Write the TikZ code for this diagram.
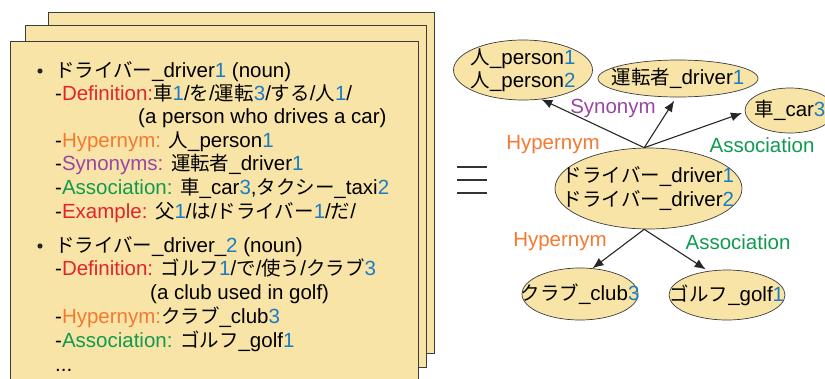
\documentclass[tikz,border=0pt]{standalone}
\usepackage{fontspec}
\setmainfont{Liberation Sans}
\newfontfamily\jpfont[Scale=0.95]{Noto Sans CJK JP}
\usetikzlibrary{shapes.geometric,arrows.meta}
\newcommand\jp[1]{{\jpfont #1}}
\definecolor{pagefill}{HTML}{F9E4A7}
\definecolor{pageline}{HTML}{3C3C3C}
\definecolor{defred}{HTML}{E0262C}
\definecolor{hyporange}{HTML}{F37A32}
\definecolor{synpurple}{HTML}{9A45A6}
\definecolor{assocgreen}{HTML}{0F9A50}
\definecolor{numblue}{HTML}{1B7CC4}
\newcommand\dg[1]{\textcolor{numblue}{#1}}
\newcommand\lbl[2]{\textcolor{#1}{#2}}
\tikzset{
  page/.style={draw=pageline, fill=pagefill, line width=0.9pt},
  entry/.style={anchor=base west, inner sep=0pt, font=\fontsize{20.5}{24}\selectfont},
  concept/.style={ellipse, draw=pageline, fill=pagefill, line width=0.7pt, inner sep=0pt},
  ctext/.style={align=center, inner sep=0pt, font=\fontsize{20.5}{23.5}\selectfont},
  rel/.style={font=\fontsize{20.5}{24}\selectfont, inner sep=0pt},
  link/.style={-{Latex[length=11pt,width=9pt]}, line width=1.1pt, draw=black!85},
}
\begin{document}
\begin{tikzpicture}[x=1pt,y=-1pt]
\useasboundingbox (0,0) rectangle (825,378);
% stacked dictionary pages
\draw[page] (48,12) rectangle (434,353);
\draw[page] (25,25) rectangle (426,367);
\draw[page] (10,41) rectangle (418,390);
% first sense
\fill[black!85] (40,71) circle (2.6pt);
\node[entry] (l1) at (55,77) {\jp{ドライバー}\_driver\dg{1} (noun)};
\node[entry] (l2) at (55,100) {-\lbl{defred}{Definition:}\jp{車}\dg{1}/\jp{を}/\jp{運転}\dg{3}/\jp{する}/\jp{人}\dg{1}/};
\node[entry] (l3) at (138,123) {(a person who drives a car)};
\node[entry] (l4) at (55,147) {-\lbl{hyporange}{Hypernym:} \jp{人}\_person\dg{1}};
\node[entry] (l5) at (55,170) {-\lbl{synpurple}{Synonyms:} \jp{運転者}\_driver\dg{1}};
\node[entry] (l6) at (55,194) {-\lbl{assocgreen}{Association:} \jp{車}\_car\dg{3},\jp{タクシー}\_taxi\dg{2}};
\node[entry] (l7) at (55,218) {-\lbl{defred}{Example:} \jp{父}\dg{1}/\jp{は}/\jp{ドライバー}\dg{1}/\jp{だ}/};
% second sense
\fill[black!85] (40,246) circle (2.6pt);
\node[entry] (l8) at (55,252) {\jp{ドライバー}\_driver\_\dg{2} (noun)};
\node[entry] (l9) at (55,275) {-\lbl{defred}{Definition:} \jp{ゴルフ}\dg{1}/\jp{で}/\jp{使う}/\jp{クラブ}\dg{3}};
\node[entry] (l10) at (150,299) {(a club used in golf)};
\node[entry] (l11) at (55,323) {-\lbl{hyporange}{Hypernym:}\jp{クラブ}\_club\dg{3}};
\node[entry] (l12) at (55,347) {-\lbl{assocgreen}{Association:} \jp{ゴルフ}\_golf\dg{1}};
\node[entry] (l13) at (55,371) {...};
% equivalence sign
\foreach \yy in {167,180,193}
  \draw[line width=1.6pt, black!80] (457,\yy) -- (487,\yy);
% concept graph: ellipses sized by hand, text set on top
\node[concept, minimum width=139pt, minimum height=60pt] (person) at (523,70) {};
\node[ctext] (persont) at (person.center) {\jp{人}\_person\dg{1}\\\jp{人}\_person\dg{2}};
\node[concept, minimum width=160pt, minimum height=37pt] (drv) at (678,78.5) {};
\node[ctext] (drvt) at (drv.center) {\jp{運転者}\_driver\dg{1}};
\node[concept, minimum width=90pt, minimum height=45pt] (car) at (790,110.5) {};
\node[ctext] (cart) at (car.center) {\jp{車}\_car\dg{3}};
\node[concept, minimum width=187pt, minimum height=81pt] (cen) at (648.5,188.5) {};
\node[ctext] (cent) at (cen.center) {\jp{ドライバー}\_driver\dg{1}\\\jp{ドライバー}\_driver\dg{2}};
\node[concept, minimum width=116pt, minimum height=52pt] (club) at (580,294) {};
\node[ctext] (clubt) at (club.center) {\jp{クラブ}\_club\dg{3}};
\node[concept, minimum width=116pt, minimum height=50pt] (golf) at (727,295) {};
\node[ctext] (golft) at (golf.center) {\jp{ゴルフ}\_golf\dg{1}};
\coordinate (top) at (cen.96);
\coordinate (bot) at (cen.-96);
\draw[link] (top) -- (person.-58);
\draw[link, shorten >=4pt] (top) -- (drv.-95);
\draw[link, shorten >=3pt] (top) -- (car.182);
\draw[link] (bot) -- (club.64);
\draw[link, shorten >=3pt] (bot) -- (golf.128);
\node[rel, text=synpurple] (lsyn) at (613,108) {Synonym};
\node[rel, text=hyporange] (lhyp1) at (553,145) {Hypernym};
\node[rel, text=assocgreen] (lass1) at (762,145) {Association};
\node[rel, text=hyporange] (lhyp2) at (560,242) {Hypernym};
\node[rel, text=assocgreen] (lass2) at (738,242) {Association};
\end{tikzpicture}
\end{document}
